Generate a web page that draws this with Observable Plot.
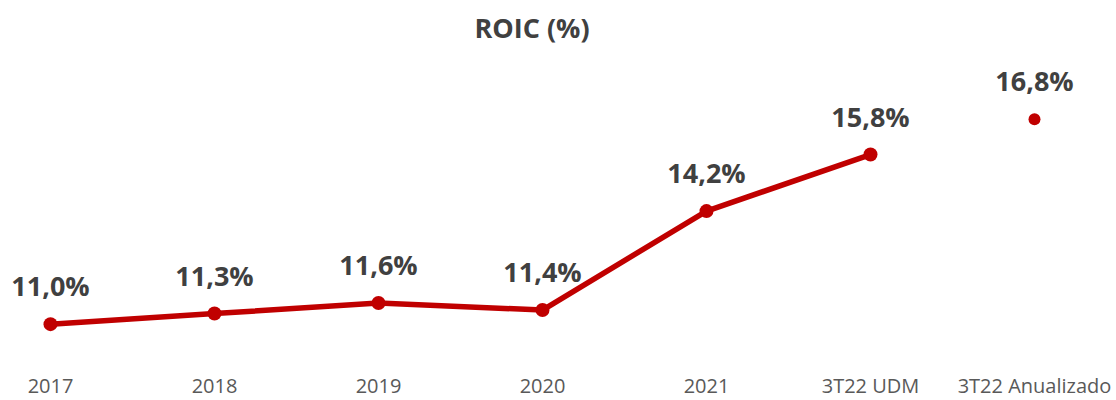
<!DOCTYPE html>
<html><head><meta charset="utf-8">
<script src="https://cdn.jsdelivr.net/npm/d3@7"></script>
<script src="https://cdn.jsdelivr.net/npm/@observablehq/plot@0.6"></script>
<style>
body{margin:0;background:#fff;font-family:"Open Sans",sans-serif;}
#title{height:60px;line-height:56px;text-align:center;font-weight:700;font-size:27px;color:#404040;width:1064px;}
</style></head><body>
<div id="title">ROIC (%)</div>
<div id="chart"></div>
<script>
const categories = ["2017","2018","2019","2020","2021","3T22 UDM","3T22 Anualizado"];
const seriesCategories = ["2017","2018","2019","2020","2021","3T22 UDM"];
const seriesValues = [11.0, 11.3, 11.6, 11.4, 14.2, 15.8];
const annualCategory = ["3T22 Anualizado"];
const annualValue = [16.8];

const line = seriesCategories.map((c,i)=>({cat:c, v:seriesValues[i]}));
const annual = annualCategory.map((c,i)=>({cat:c, v:annualValue[i]}));
const all = line.concat(annual);
const fmt = v => v.toFixed(1).replace(".", ",") + "%";

const chart = Plot.plot({
  width: 1116, height: 340,
  marginLeft: 50, marginRight: 82, marginTop: 34, marginBottom: 41,
  style: {fontFamily: "'Open Sans', sans-serif", background: "#fff"},
  x: {type: "point", domain: categories, padding: 0},
  y: {domain: [10, 17.5], axis: null},
  marks: [
    Plot.axisX({tickSize: 0, tickPadding: 19, fontSize: 20, color: "#595959", label: null}),
    Plot.line(line, {x: "cat", y: "v", stroke: "#C00000", strokeWidth: 5.5}),
    Plot.dot(line, {x: "cat", y: "v", r: 7, fill: "#C00000"}),
    Plot.dot(annual, {x: "cat", y: "v", r: 6, fill: "#C00000"}),
    Plot.text(all, {x: "cat", y: "v", text: d => fmt(d.v), dy: -28, lineAnchor: "bottom", fontSize: 27, fontWeight: "bold", fill: "#404040"})
  ]
});
document.getElementById("chart").append(chart);
</script></body></html>
